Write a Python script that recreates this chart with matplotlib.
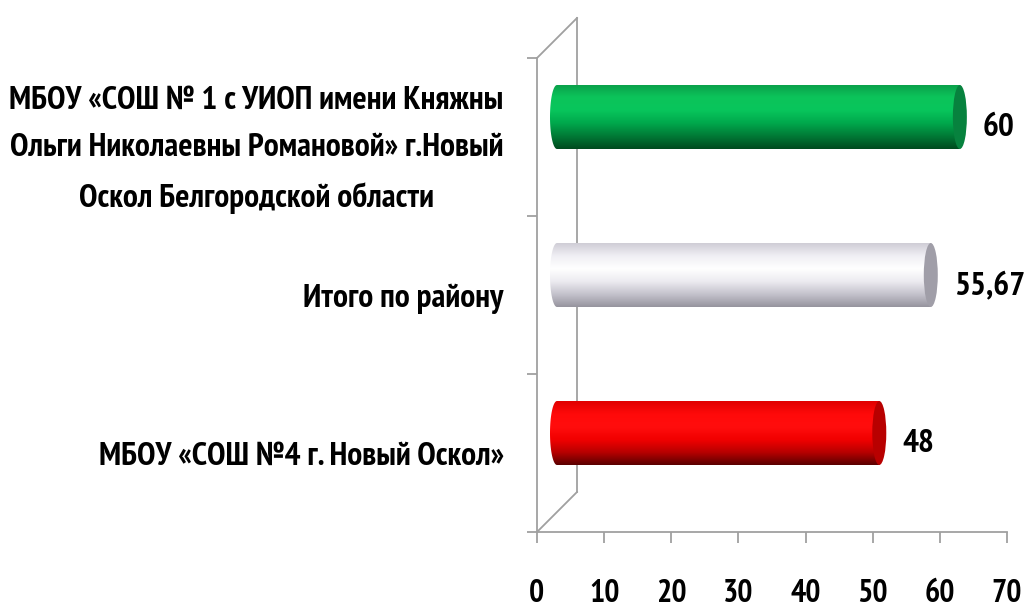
import numpy as np
import matplotlib.pyplot as plt
from matplotlib.patches import Ellipse, PathPatch
from matplotlib.path import Path
from matplotlib.colors import LinearSegmentedColormap

# data, bottom to top
categories = [
    'МБОУ «СОШ №4 г. Новый Оскол»',
    'Итого по району',
    'МБОУ «СОШ № 1 с УИОП имени Княжны\nОльги Николаевны Романовой» г.Новый\nОскол Белгородской области',
]
values = [48, 55.67, 60]
value_labels = ['48', '55,67', '60']
xticks = [0, 10, 20, 30, 40, 50, 60, 70]

# gradient stops (bottom -> top) and end cap colour for each bar
bar_styles = [
    (['#5a0000', '#b80000', '#f20000', '#ff0d0d', '#ff0a0a', '#e00000'], '#b80000'),
    (['#96949e', '#c4c2cc', '#ecebf0', '#ffffff', '#f0eff4', '#cfcdd6'], '#a09ea8'),
    (['#004a1e', '#007a36', '#00a84c', '#08c65c', '#0cc45a', '#0a9e4a'], '#07823e'),
]

FONT = ['PT Sans Narrow', 'DejaVu Sans']
GRID = '#a0a0a0'

fig = plt.figure(figsize=(10.27, 6.08), dpi=100)
ax = fig.add_axes([537 / 1027, 76 / 608, 470 / 1027, 474 / 608])

XMIN, XMAX = 0, 70
YMIN, YMAX = -0.5, 2.5
px_x = (XMAX - XMIN) / 470.0
px_y = (YMAX - YMIN) / 474.0
DX, DY = 20 * px_x, 20 * px_y      # half depth of the 3d box
bar_h = 64 * px_y
cap_w = 14 * px_x

# back wall edges
ax.plot([XMIN, XMIN + 2 * DX], [YMAX, YMAX + 2 * DY], color=GRID, lw=1.3, clip_on=False, zorder=1)
ax.plot([XMIN, XMIN + 2 * DX], [YMIN, YMIN + 2 * DY], color=GRID, lw=1.3, clip_on=False, zorder=1)
ax.plot([XMIN + 2 * DX] * 2, [YMIN + 2 * DY, YMAX + 2 * DY], color=GRID, lw=1.3, clip_on=False, zorder=1)

grad = np.linspace(0, 1, 256).reshape(-1, 1)
for i, (v, (stops, capc)) in enumerate(zip(values, bar_styles)):
    yc = i + DY
    yb, yt = yc - bar_h / 2, yc + bar_h / 2
    x0, x1 = XMIN + DX, v + DX
    th = np.linspace(1.5 * np.pi, 0.5 * np.pi, 40)
    left = np.column_stack([x0 + cap_w / 2 * np.cos(th), yc + bar_h / 2 * np.sin(th)])
    verts = np.vstack([[x1, yb], left, [x1, yt], [x1, yb]])
    codes = [Path.MOVETO] + [Path.LINETO] * (len(verts) - 2) + [Path.CLOSEPOLY]
    body = PathPatch(Path(verts, codes), facecolor='none', edgecolor='none')
    ax.add_patch(body)
    cmap = LinearSegmentedColormap.from_list('c%d' % i, stops)
    im = ax.imshow(grad, extent=[x0 - cap_w, x1 + cap_w, yb, yt], origin='lower',
                   cmap=cmap, aspect='auto', zorder=2, interpolation='bilinear')
    im.set_clip_path(body)
    cap = Ellipse((x1, yc), cap_w, bar_h, facecolor=capc, edgecolor='none', zorder=3)
    ax.add_patch(cap)
    ax.text(v + 43 * px_x, i + DY - 11 * px_y, value_labels[i], ha='left', va='center',
            fontsize=24, fontweight='bold', family=FONT)

ax.set_xlim(XMIN, XMAX)
ax.set_ylim(YMIN, YMAX)

for s in ['top', 'right']:
    ax.spines[s].set_visible(False)
for s in ['left', 'bottom']:
    ax.spines[s].set_color(GRID)
    ax.spines[s].set_linewidth(1.3)

ax.set_xticks(xticks)
ax.set_xticklabels([str(t) for t in xticks], fontsize=23, fontweight='bold', family=FONT)
ax.tick_params(axis='x', length=8, width=1.3, color=GRID, pad=26)

ax.set_yticks([-0.5, 0.5, 1.5, 2.5])
ax.set_yticklabels([])
ax.tick_params(axis='y', which='major', length=7, width=1.3, color=GRID)
ax.set_yticks(range(len(categories)), categories, minor=True)
ax.tick_params(axis='y', which='minor', length=0, pad=24)
for lbl in ax.get_yticklabels(minor=True):
    lbl.set_fontsize(24)
    lbl.set_fontweight('bold')
    lbl.set_family(FONT)
    lbl.set_multialignment('center')
    lbl.set_linespacing(1.75)

fig.savefig('out.png', dpi=100)
